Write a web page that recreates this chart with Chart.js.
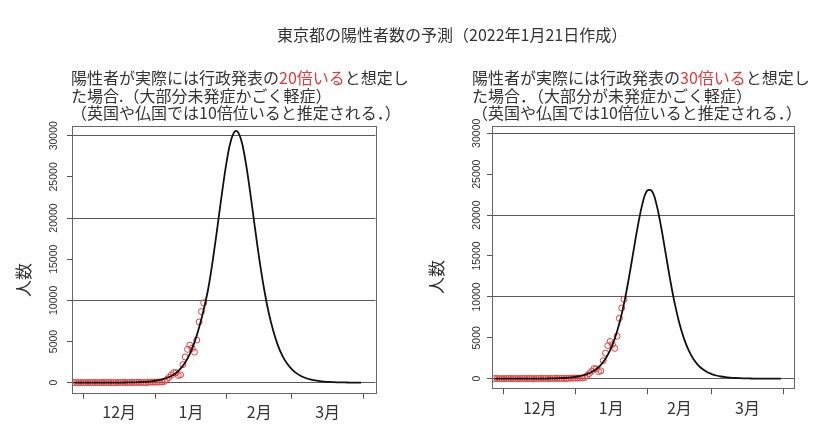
<!DOCTYPE html>
<html>
<head>
<meta charset="utf-8">
<script src="https://cdn.jsdelivr.net/npm/chart.js@4.4.1/dist/chart.umd.min.js"></script>
<style>
  body { margin: 0; background: #fff; }
  #wrap { position: relative; width: 840px; height: 444px; overflow: hidden; font-family: "Noto Sans CJK JP", sans-serif; color: #333; }
  canvas { position: absolute; top: 0; }
  .t { position: absolute; white-space: nowrap; font-size: 16px; }
  .sub { line-height: 17.5px; }
  .red { color: #e0393e; }
</style>
</head>
<body>
<div id="wrap">
  <canvas id="chartLeft" width="420" height="444" style="left:0"></canvas>
  <canvas id="chartRight" width="420" height="444" style="left:420px"></canvas>
  <div class="t" style="left:277px;top:25px;line-height:18px">東京都の陽性者数の予測（2022年1月21日作成）</div>
  <div class="t sub" style="left:71px;top:69px">陽性者が実際には行政発表の<span class="red">20倍いる</span>と想定し<br>た場合.（大部分未発症かごく軽症）<br>（英国や仏国では10倍位いると推定される．）</div>
  <div class="t sub" style="left:472px;top:69px">陽性者が実際には行政発表の<span class="red">30倍いる</span>と想定し<br>た場合．（大部分が未発症かごく軽症）<br>（英国や仏国では10倍位いると推定される．）</div>
</div>
<script>
// days counted from Dec 1 (= 0)
const monthStarts = [0, 31, 62, 90, 121];
const monthMids = [15.5, 46.5, 76, 105.5];
const monthLabels = ['12月', '1月', '2月', '3月'];
const yTicks = [0, 5000, 10000, 15000, 20000, 25000, 30000];
const yLines = [0, 10000, 20000, 30000];

// model curves (every 2 days)
const modelDays = [-4, -2, 0, 2, 4, 6, 8, 10, 12, 14, 16, 18, 20, 22, 24, 26, 28, 30, 32, 34, 36, 38,
  40, 42, 44, 46, 48, 50, 52, 54, 56, 58, 60, 62, 64, 66, 68, 70, 72, 74, 76, 78, 80, 82, 84, 86,
  88, 90, 92, 94, 96, 98, 100, 102, 104, 106, 108, 110, 112, 114, 116, 118, 120];
const model20x = [0, 1, 1, 1, 2, 3, 4, 6, 8, 11, 16, 23, 33, 48, 68, 97, 138, 197, 283, 400, 570, 820,
  1180, 1700, 2450, 3500, 4900, 6700, 8900, 11500, 15050, 19090, 23260, 27010, 29650, 30600, 29650,
  27010, 23260, 19090, 15050, 11500, 8580, 6330, 4560, 3250, 2320, 1650, 1160, 814, 571, 401, 283,
  197, 138, 97, 68, 48, 33, 23, 16, 11, 8];
const model30x = [1, 1, 1, 1, 1, 2, 3, 4, 6, 9, 13, 19, 28, 41, 59, 86, 126, 183, 267, 390, 569, 815,
  1180, 1700, 2430, 3480, 4900, 6770, 9170, 12120, 15420, 18690, 21400, 22970, 22970, 21400, 18690,
  15420, 12120, 9170, 6770, 4900, 3480, 2430, 1700, 1180, 815, 569, 390, 267, 183, 126, 86, 59, 41,
  28, 19, 13, 9, 6, 4, 3, 2];

// reported daily positives, one per day starting at obsFirstDay
const obsFirstDay = -4;
const obsValues = [24, 21, 8, 9, 12,
  16, 21, 20, 18, 13, 7, 23, 21, 19, 16, 27, 17, 7, 21, 27, 27, 25, 26, 23, 17, 36, 30, 37, 33, 37, 30, 19, 46, 76, 64, 78,
  79, 84, 103, 151, 390, 641, 922, 1224, 1223, 871, 962, 2198, 3124, 4051, 4561, 4172, 3709, 5185, 7377, 8638, 9699];

const rStyle = {
  id: 'rStyle',
  afterDraw(chart, args, o) {
    const { ctx, chartArea: a, scales: { y } } = chart;
    ctx.save();
    ctx.strokeStyle = '#666';
    ctx.lineWidth = 1;
    ctx.strokeRect(Math.round(a.left) + 0.5, Math.round(a.top) + 0.5,
      Math.round(a.right - a.left), Math.round(a.bottom - a.top));

    ctx.fillStyle = '#333';
    ctx.textAlign = 'center';
    ctx.textBaseline = 'middle';
    ctx.font = '10.5px "Liberation Sans", Arial, sans-serif';
    y.ticks.forEach(t => {
      ctx.save();
      ctx.translate(o.tickLabelX, y.getPixelForValue(t.value));
      ctx.rotate(-Math.PI / 2);
      ctx.fillText(String(t.value), 0, 0);
      ctx.restore();
    });

    ctx.font = '17px "Noto Sans CJK JP"';
    ctx.translate(o.titleX, o.titleY);
    ctx.rotate(-Math.PI / 2);
    ctx.fillText('人数', 0, 0);
    ctx.restore();
  }
};

function buildChart(id, modelValues, cfg) {
  return new Chart(document.getElementById(id), {
    type: 'line',
    data: {
      datasets: [
        {
          data: modelDays.map((d, i) => ({ x: d, y: modelValues[i] })),
          borderColor: '#111',
          borderWidth: 1.8,
          pointRadius: 0,
          tension: 0.4,
          fill: false
        },
        {
          data: obsValues.map((v, i) => ({ x: obsFirstDay + i, y: v })),
          showLine: false,
          pointStyle: 'circle',
          pointRadius: 3,
          pointBorderWidth: 1,
          borderColor: '#e63c3c',
          backgroundColor: 'rgba(0,0,0,0)'
        }
      ]
    },
    options: {
      responsive: false,
      animation: false,
      events: [],
      layout: { padding: { left: 0, top: cfg.top, right: cfg.right, bottom: 0 } },
      plugins: {
        legend: { display: false },
        tooltip: { enabled: false },
        rStyle: { tickLabelX: cfg.tickLabelX, titleX: cfg.titleX, titleY: cfg.titleY }
      },
      scales: {
        x: {
          type: 'linear',
          min: cfg.xMin,
          max: cfg.xMax,
          afterBuildTicks: s => {
            s.ticks = monthStarts.concat(monthMids).sort((p, q) => p - q).map(v => ({ value: v }));
          },
          afterFit: s => { s.height = cfg.xAxisH; },
          border: { display: false },
          grid: {
            drawOnChartArea: false,
            tickLength: 6,
            tickColor: c => (c.tick && monthStarts.includes(c.tick.value)) ? '#555' : 'rgba(0,0,0,0)'
          },
          ticks: {
            autoSkip: false,
            maxRotation: 0,
            padding: 4,
            color: '#333',
            font: { family: '"Noto Sans CJK JP"', size: 16 },
            callback: v => {
              const k = monthMids.indexOf(v);
              return k >= 0 ? monthLabels[k] : '';
            }
          }
        },
        y: {
          min: cfg.yMin,
          max: cfg.yMax,
          afterBuildTicks: s => { s.ticks = yTicks.map(v => ({ value: v })); },
          afterFit: s => { s.width = 72; },
          border: { display: false },
          ticks: { display: false },
          grid: {
            tickLength: 5,
            tickColor: '#555',
            color: c => (c.tick && yLines.includes(c.tick.value)) ? '#5a5a5a' : 'rgba(0,0,0,0)'
          }
        }
      }
    },
    plugins: [rStyle]
  });
}

buildChart('chartLeft', model20x, {
  top: 126, right: 44.5, xAxisH: 51.3,
  xMin: -4.9, xMax: 126.2, yMin: -1215, yMax: 31180,
  tickLabelX: 54, titleX: 24, titleY: 280
});
buildChart('chartRight', model30x, {
  top: 126, right: 45.7, xAxisH: 55.7,
  xMin: -5.2, xMax: 125.8, yMin: -1175, yMax: 30890,
  tickLabelX: 57.3, titleX: 16.5, titleY: 277
});
</script>
</body>
</html>
